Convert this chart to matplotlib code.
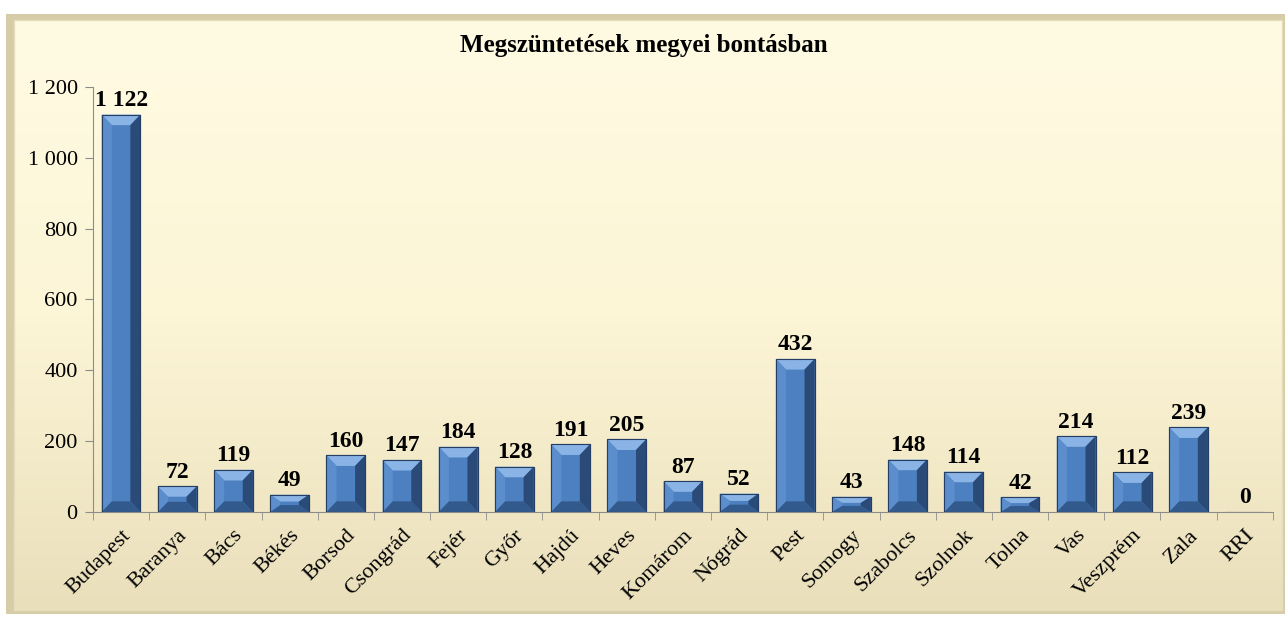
import numpy as np
import matplotlib
matplotlib.use('Agg')
import matplotlib.pyplot as plt
from matplotlib.patches import Polygon, FancyBboxPatch
from matplotlib.ticker import FuncFormatter, FixedLocator
from matplotlib.colors import LinearSegmentedColormap

# Data
counties = ['Budapest', 'Baranya', 'Bács', 'Békés', 'Borsod', 'Csongrád', 'Fejér',
            'Győr', 'Hajdú', 'Heves', 'Komárom', 'Nógrád', 'Pest', 'Somogy',
            'Szabolcs', 'Szolnok', 'Tolna', 'Vas', 'Veszprém', 'Zala', 'RRI']
values = [1122, 72, 119, 49, 160, 147, 184, 128, 191, 205, 87, 52, 432, 43,
          148, 114, 42, 214, 112, 239, 0]
title = 'Megszüntetések megyei bontásban'
y_ticks = [0, 200, 400, 600, 800, 1000, 1200]

plt.rcParams['font.family'] = ['Liberation Serif', 'DejaVu Serif']


def space_thousands(v, pos=None):
    return f'{int(round(v)):,}'.replace(',', ' ')


fig = plt.figure(figsize=(12.88, 6.17), dpi=100)
fig.patch.set_facecolor('white')

# background panel with a soft vertical gradient
bg = fig.add_axes([0.0, 0.0, 1.0, 1.0], zorder=-2)
bg.set_xlim(0, 1)
bg.set_ylim(0, 1)
bg.axis('off')
shadow = FancyBboxPatch((0.005, 0.005), 0.993, 0.972, boxstyle='square,pad=0',
                        facecolor='#d6cca8', edgecolor='none', transform=bg.transAxes)
bg.add_patch(shadow)
cmap = LinearSegmentedColormap.from_list('bg', ['#eadfbb', '#fcf5d6', '#fffbe3'])
grad = np.linspace(0, 1, 256).reshape(-1, 1)
bg.imshow(grad, cmap=cmap, aspect='auto', origin='lower',
          extent=[0.011, 0.995, 0.012, 0.968], zorder=1)
bg.plot([0.011, 0.995, 0.995, 0.011, 0.011], [0.012, 0.012, 0.968, 0.968, 0.012],
        color='#e6ddbd', lw=1.0, zorder=2)

ax = fig.add_axes([0.0722, 0.1702, 0.916, 0.689])
ax.set_facecolor('none')

x = np.arange(len(counties))
bar_w = 0.69
bars = ax.bar(x, values, width=bar_w, color='#4d80c0', edgecolor='#243f63',
              linewidth=0.8, zorder=2)

ax.set_xlim(-0.5, len(counties) - 0.5)
ax.set_ylim(0, 1200)

# bevel effect drawn from each bar's geometry
bev_x = 0.18
for b in bars:
    x0, w, h = b.get_x(), b.get_width(), b.get_height()
    if h <= 0:
        continue
    bv = min(30, h / 2.5)
    bx = min(bev_x, w / 2)
    top = Polygon([(x0, h), (x0 + w, h), (x0 + w - bx, h - bv), (x0 + bx, h - bv)],
                  closed=True, facecolor='#8ab4e6', edgecolor='none', zorder=3)
    right = Polygon([(x0 + w, h), (x0 + w, 0), (x0 + w - bx, bv), (x0 + w - bx, h - bv)],
                    closed=True, facecolor='#2a4a78', edgecolor='none', zorder=3)
    left = Polygon([(x0, h), (x0, 0), (x0 + bx, bv), (x0 + bx, h - bv)],
                   closed=True, facecolor='#5c8ecd', edgecolor='none', zorder=3)
    bottom = Polygon([(x0, 0), (x0 + w, 0), (x0 + w - bx, bv), (x0 + bx, bv)],
                     closed=True, facecolor='#335a8d', edgecolor='none', zorder=3)
    for p in (top, right, left, bottom):
        ax.add_patch(p)
    ax.add_patch(Polygon([(x0, 0), (x0, h), (x0 + w, h), (x0 + w, 0)], closed=True,
                         facecolor='none', edgecolor='#243f63', lw=0.8, zorder=4))

for xi, v in zip(x, values):
    ax.text(xi, v + 10, space_thousands(v), ha='center', va='bottom',
            fontsize=17, fontweight='bold', color='black', zorder=5)

ax.spines['top'].set_visible(False)
ax.spines['right'].set_visible(False)
ax.spines['left'].set_color('#8c8c8c')
ax.spines['bottom'].set_color('#8c8c8c')

ax.yaxis.set_major_locator(FixedLocator(y_ticks))
ax.yaxis.set_major_formatter(FuncFormatter(space_thousands))
ax.tick_params(axis='y', direction='out', length=6, color='#8c8c8c',
               labelsize=16, pad=5)

ax.set_xticks(x)
ax.set_xticklabels(counties, rotation=45, ha='right', rotation_mode='anchor',
                   fontsize=16)
ax.set_xticks(np.arange(len(counties) + 1) - 0.5, minor=True)
ax.tick_params(axis='x', which='major', length=0, pad=10)
ax.tick_params(axis='x', which='minor', direction='out', length=6, color='#8c8c8c')

fig.text(0.5, 0.927, title, ha='center', va='center', fontsize=18, fontweight='bold')

fig.savefig('out.png', dpi=100, facecolor=fig.get_facecolor())
